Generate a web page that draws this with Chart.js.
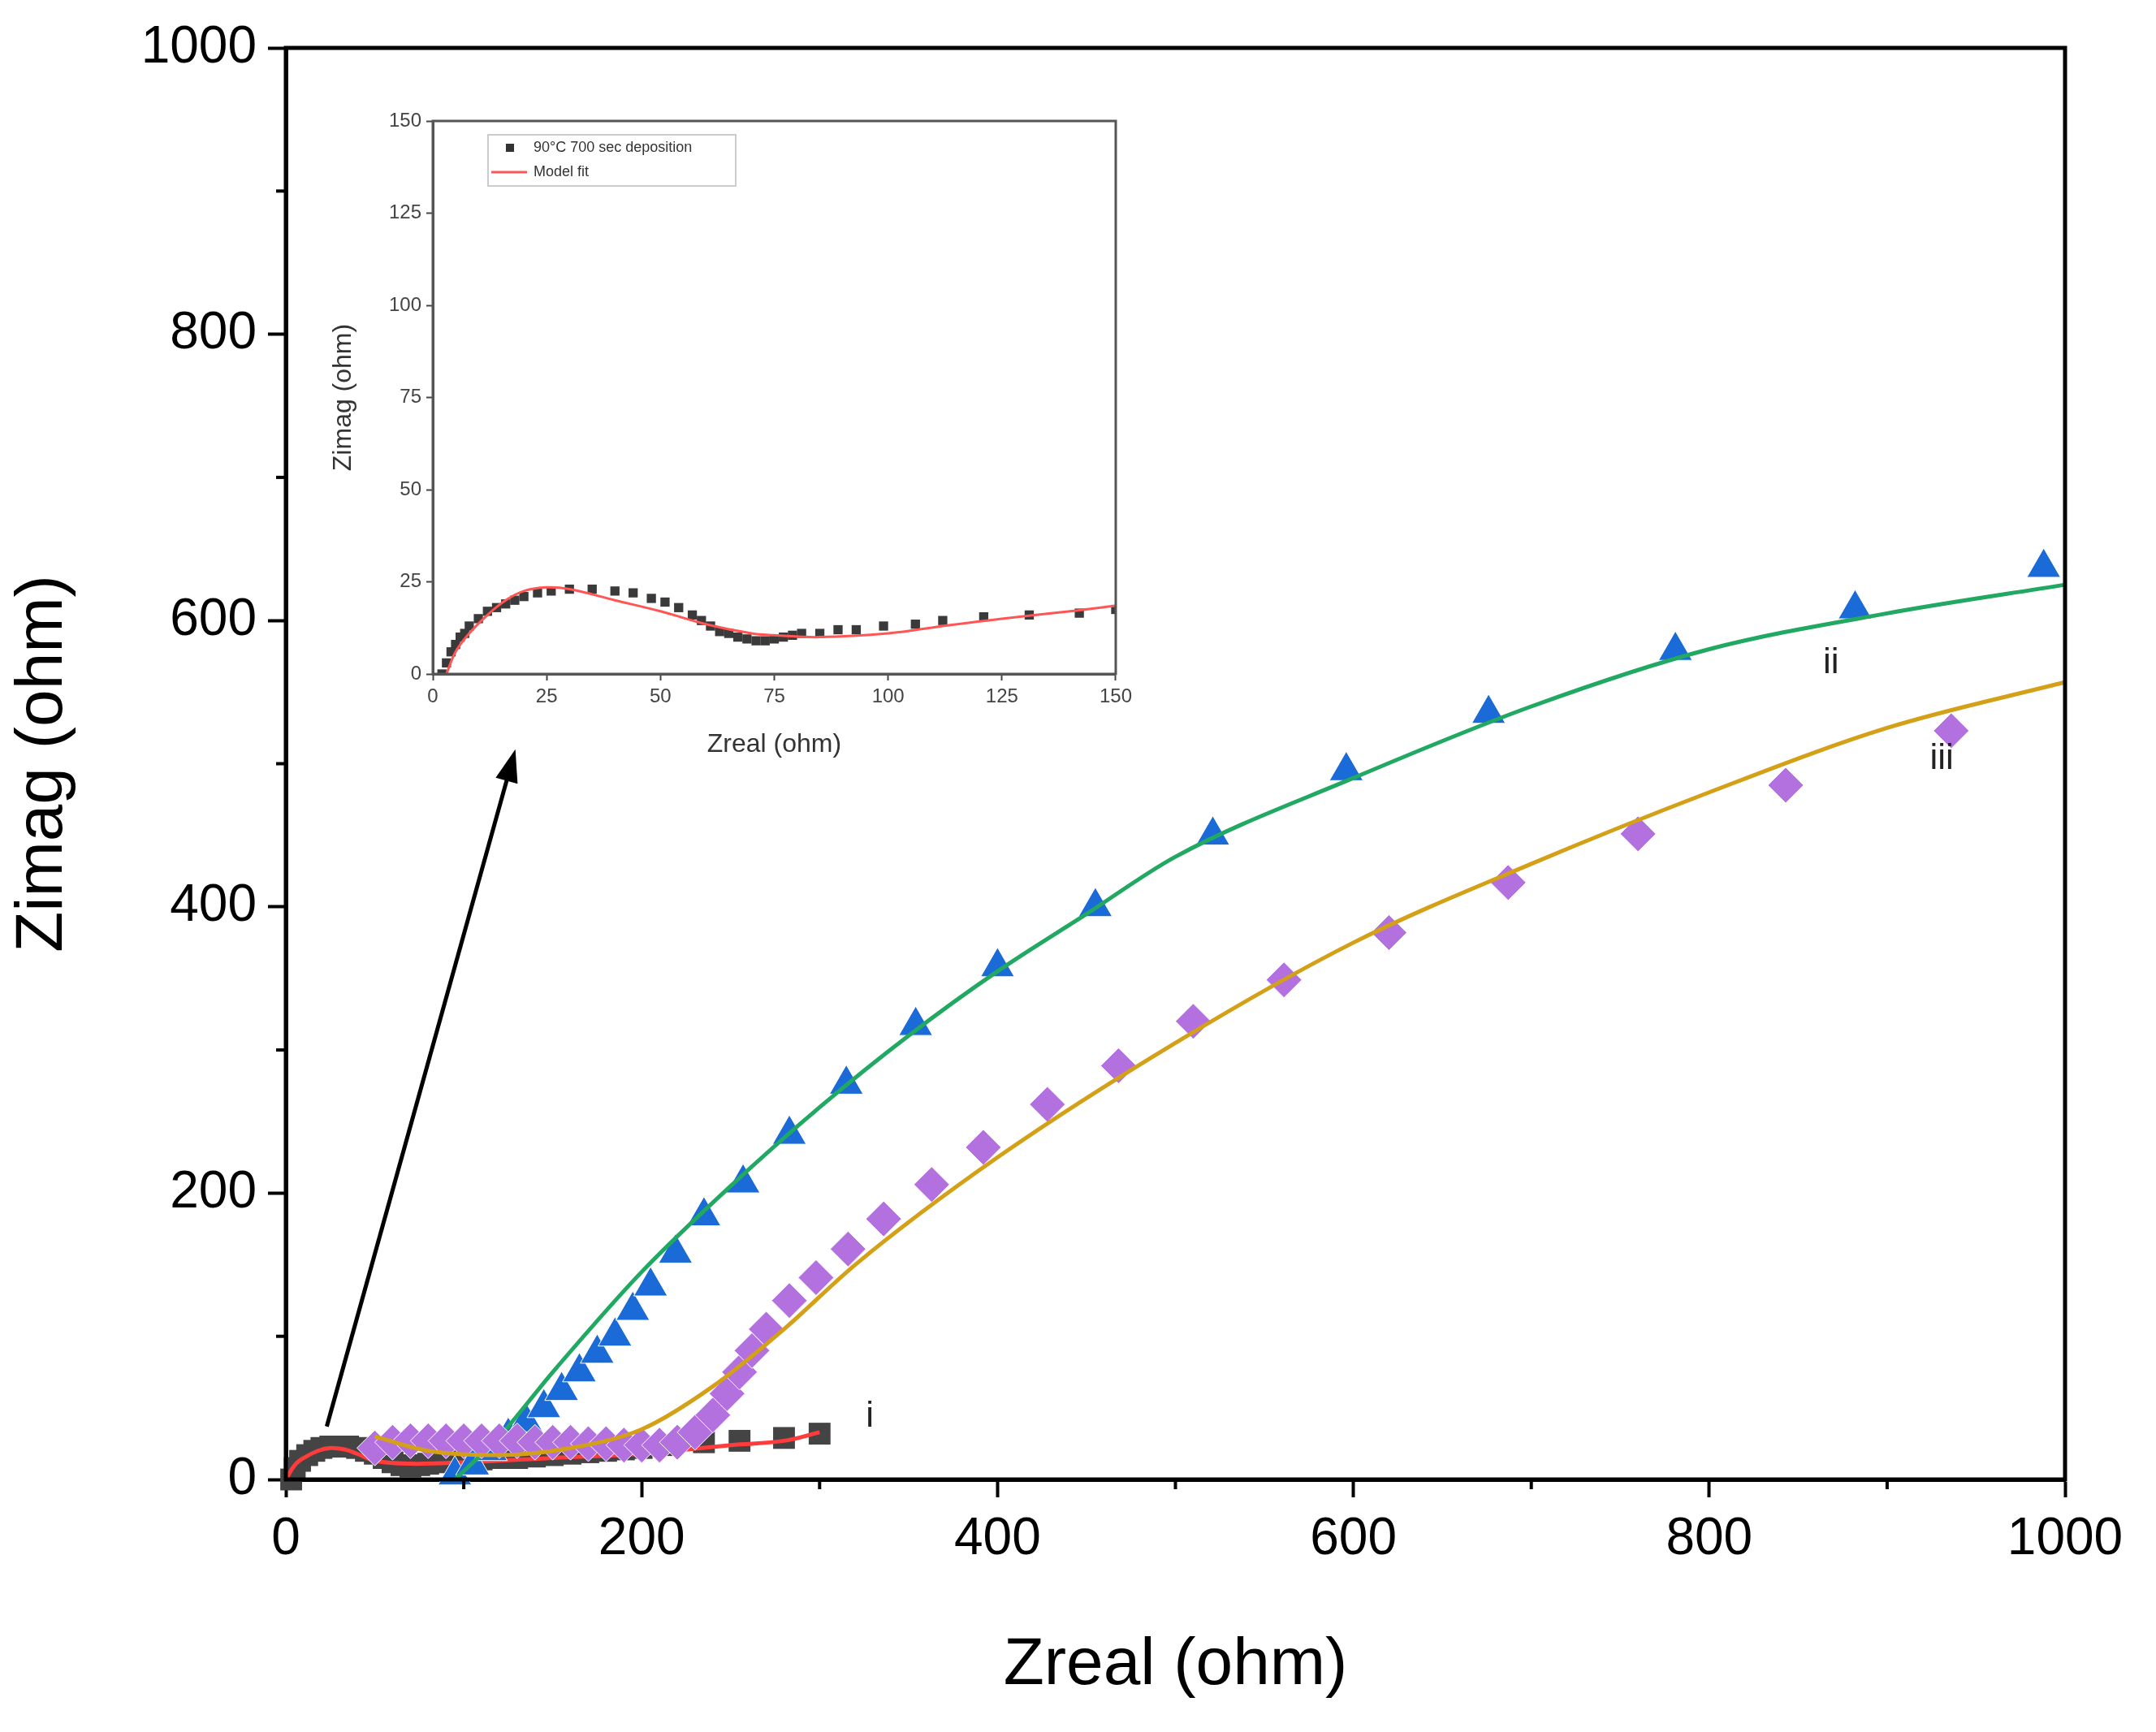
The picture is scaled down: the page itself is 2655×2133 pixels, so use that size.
<!DOCTYPE html>
<html><head><meta charset="utf-8">
<script src="https://cdn.jsdelivr.net/npm/chart.js@4"></script>
<style>html,body{margin:0;padding:0;background:#fff}#wrap{position:relative;width:2655px;height:2133px}
#main{position:absolute;left:0;top:0}#inset{position:absolute;left:400px;top:100px}</style>
</head><body><div id="wrap"><canvas id="main" width="2655" height="2133"></canvas><canvas id="inset" width="1000" height="880"></canvas></div>
<script>
// Series i (gray squares) and its fit
const iX=[3,5,8,12,16,20,25,30,35,40,45,50,55,60,65,70,75,80,90,100,110,120,130,140,150,160,170,180,190,200,215,235,255,280,300];
const iY=[0,8,13,17,20,22,23,23,23,22,20,18,15,12,10,9,10,11,12,13,14,15,15,16,17,18,19,20,21,22,24,26,27,29,32];
const iFitX=[0,5,10,18,25,33,40,50,70,100,150,200,250,280,300];
const iFitY=[0,10,15,20,22,21,18,13,11,12,15,18,24,27,33];
// Series ii (blue triangles) and fit
const iiX=[95,105,115,125,135,145,155,165,175,185,195,205,219,235,257,283,315,354,400,455,521,596,676,781,882,988];
const iiY=[3,10,20,30,40,50,62,75,88,100,118,135,158,184,207,241,276,317,358,400,450,495,535,579,608,637];
const iiFitX=[95,120,150,200,250,300,350,400,450,500,600,700,800,900,1000];
const iiFitY=[0,30,75,145,205,260,310,355,395,435,490,540,580,605,625];
// Series iii (purple diamonds) and fit
const iiiX=[50,60,70,80,90,100,110,120,130,140,150,160,170,180,190,200,210,220,230,240,248,255,262,270,283,298,316,336,363,392,428,468,510,561,620,687,760,843,936];
const iiiY=[22,26,27,27,27,27,27,27,27,26,26,26,25,25,24,24,24,26,33,45,60,75,90,105,125,141,161,182,206,232,262,289,320,349,382,417,451,485,523];
const iiiFitX=[50,80,120,160,200,240,280,320,400,500,600,700,800,900,1000];
const iiiFitY=[30,20,17,22,35,65,105,150,225,305,375,430,480,525,557];
// Inset: 90°C 700 sec deposition and model fit
const insX=[2,3,4,5,6,7,8,10,12,14,16,18,20,23,26,30,35,40,44,48,51,54,57,59,61,63,65,67,69,71,73,75,77,79,81,85,89,93,99,106,112,121,131,142,150];
const insY=[0,3,6,8,10,11,13,15,17,18,19,20,21,22,22.5,23,23,22.5,22,20.5,19.5,18,16,14.5,13,11.5,11,10,9.5,9,9,9.5,10,10.5,11,11,12,12,13,13.5,14.5,15.5,16,16.5,17.5];
const insFitX=[3,5,8,12,16,20,25,30,40,50,60,70,75,85,100,112,125,140,150];
const insFitY=[0,6,11,16,20,22.5,23.5,23,20,17,13.5,11,10.5,10,11,13,15,17,18.5];
const mainTicks=[0,200,400,600,800,1000];
const insetTicks=[0,25,50,75,100,125,150];
const labels=[["i",326,44],["ii",864,570],["iii",924,503]];
const arrow=[[23,37],[129,510]];

const pts=(xs,ys)=>xs.map((x,k)=>({x,y:ys[k]}));
const F='"Liberation Sans", Arial, sans-serif';

const mainPlug={id:'mp',afterDatasetsDraw(c){
  const g=c.ctx,a=c.chartArea,xs=c.scales.x,ys=c.scales.y;
  g.save();g.strokeStyle='#000';g.lineWidth=5;g.strokeRect(a.left,a.top,a.right-a.left,a.bottom-a.top);
  g.lineWidth=4;
  for(let v=100;v<1000;v+=200){const px=xs.getPixelForValue(v);g.beginPath();g.moveTo(px,a.bottom);g.lineTo(px,a.bottom+12);g.stroke();
    const py=ys.getPixelForValue(v);g.beginPath();g.moveTo(a.left,py);g.lineTo(a.left-12,py);g.stroke();}
  const x0=xs.getPixelForValue(arrow[0][0]),y0=ys.getPixelForValue(arrow[0][1]),x1=xs.getPixelForValue(arrow[1][0]),y1=ys.getPixelForValue(arrow[1][1]);
  const ang=Math.atan2(y1-y0,x1-x0),L=40,W=14;
  g.lineWidth=5;g.beginPath();g.moveTo(x0,y0);g.lineTo(x1-L*Math.cos(ang)*0.8,y1-L*Math.sin(ang)*0.8);g.stroke();
  g.fillStyle='#000';g.beginPath();g.moveTo(x1,y1);
  g.lineTo(x1-L*Math.cos(ang)+W*Math.sin(ang),y1-L*Math.sin(ang)-W*Math.cos(ang));
  g.lineTo(x1-L*Math.cos(ang)-W*Math.sin(ang),y1-L*Math.sin(ang)+W*Math.cos(ang));g.closePath();g.fill();
  g.font='44px '+F;g.fillStyle='#222';g.textAlign='left';g.textBaseline='middle';
  labels.forEach(([t,x,y])=>g.fillText(t,xs.getPixelForValue(x),ys.getPixelForValue(y)));
  g.restore();}};

const axMain=(title,isX)=>({type:'linear',min:0,max:1000,
  ticks:{stepSize:200,color:'#000',font:{size:64,family:F},padding:14,callback:v=>String(v)},
  grid:{display:true,drawOnChartArea:false,tickLength:22,tickWidth:4,tickColor:'#000',color:'#000'},
  border:{color:'#000',width:5},
  title:{display:true,text:title,color:'#000',font:{size:82,family:F},padding:isX?{top:10}:{bottom:20}},
  afterBuildTicks:s=>{s.ticks=mainTicks.map(v=>({value:v}));},
  afterFit:s=>{if(isX)s.height=283;else s.width=352;}});

new Chart(document.getElementById('main'),{type:'scatter',
 data:{datasets:[
  {label:'iii fit',data:pts(iiiFitX,iiiFitY),showLine:true,borderColor:'#d4a017',borderWidth:5,pointRadius:0,cubicInterpolationMode:'monotone',order:1},
  {label:'iii',data:pts(iiiX,iiiY),pointStyle:'rectRot',pointRadius:22,backgroundColor:'#b370df',borderColor:'#fff',borderWidth:1,order:2},
  {label:'ii fit',data:pts(iiFitX,iiFitY),showLine:true,borderColor:'#21a862',borderWidth:5,pointRadius:0,cubicInterpolationMode:'monotone',order:3},
  {label:'ii',data:pts(iiX,iiY),pointStyle:'triangle',pointRadius:24,backgroundColor:'#1a6ad8',borderColor:'#fff',borderWidth:1,order:4},
  {label:'i fit',data:pts(iFitX,iFitY),showLine:true,borderColor:'#ff3b3b',borderWidth:5,pointRadius:0,tension:0.4,order:5},
  {label:'i',data:pts(iX,iY),pointStyle:'rect',pointRadius:19,backgroundColor:'#444',borderColor:'#444',borderWidth:0,order:6}
 ]},
 options:{responsive:false,animation:false,devicePixelRatio:1,clip:false,
  layout:{padding:{left:0,top:59,right:112,bottom:28}},
  plugins:{legend:{display:false},tooltip:{enabled:false}},
  scales:{x:axMain('Zreal (ohm)',true),y:axMain('Zimag (ohm)',false)}},
 plugins:[mainPlug]});

const insPlug={id:'ip',afterDatasetsDraw(c){
  const g=c.ctx,a=c.chartArea;g.save();g.strokeStyle='#555';g.lineWidth=3;g.strokeRect(a.left,a.top,a.right-a.left,a.bottom-a.top);
  const lx=a.left+68,ly=a.top+17;g.strokeStyle='#ccc';g.lineWidth=2;g.strokeRect(lx,ly,305,63);
  g.fillStyle='#333';g.fillRect(lx+22,ly+11,10,10);
  g.strokeStyle='#ff5555';g.lineWidth=3;g.beginPath();g.moveTo(lx+4,ly+46);g.lineTo(lx+48,ly+46);g.stroke();
  g.fillStyle='#333';g.font='18px '+F;g.textBaseline='middle';g.fillText('90°C 700 sec deposition',lx+56,ly+16);g.fillText('Model fit',lx+56,ly+46);
  g.restore();}};
const axIns=(title,isX)=>({type:'linear',min:0,max:150,
  ticks:{stepSize:25,color:'#444',font:{size:24,family:F},padding:6},
  grid:{display:true,drawOnChartArea:false,tickLength:8,tickWidth:2,tickColor:'#444'},
  border:{color:'#555',width:3},
  title:{display:true,text:title,color:'#333',font:{size:32,family:F},padding:isX?{top:4}:{bottom:8}},
  afterBuildTicks:s=>{s.ticks=insetTicks.map(v=>({value:v}));},
  afterFit:s=>{if(isX)s.height=110;else s.width=133;}});
new Chart(document.getElementById('inset'),{type:'scatter',
 data:{datasets:[
  {label:'Model fit',data:pts(insFitX,insFitY),showLine:true,borderColor:'#ff5555',borderWidth:3,pointRadius:0,tension:0.4,order:1},
  {label:'90°C 700 sec deposition',data:pts(insX,insY),pointStyle:'rect',pointRadius:8,backgroundColor:'#3a3a3a',borderWidth:0,order:2}
 ]},
 options:{responsive:false,animation:false,devicePixelRatio:1,
  layout:{padding:{left:0,top:49,right:23,bottom:40}},
  plugins:{legend:{display:false},tooltip:{enabled:false}},
  scales:{x:axIns('Zreal (ohm)',true),y:axIns('Zimag (ohm)',false)}},
 plugins:[insPlug]});
</script></body></html>
